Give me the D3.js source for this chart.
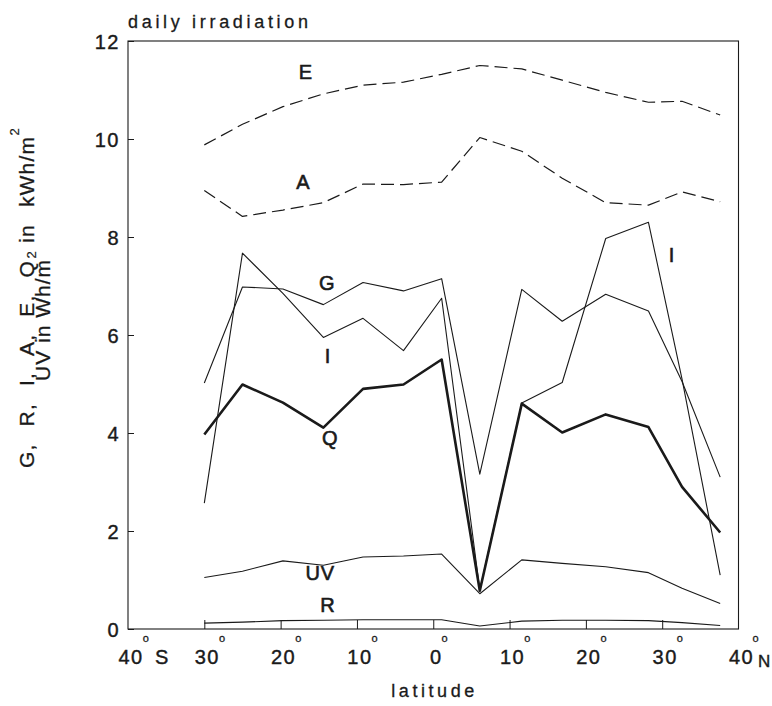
<!DOCTYPE html>
<html>
<head>
<meta charset="utf-8">
<script src="https://cdn.jsdelivr.net/npm/d3@7"></script>
<style>
  body { margin: 0; background: #fff; }
  svg { display: block; font-family: 'Liberation Sans', Arial, sans-serif; }
</style>
</head>
<body>
<svg id="chart" width="772" height="706"></svg>
<script>
// station latitudes (negative = south)
const latitudes = [-30, -25, -19.7, -14.4, -9.2, -3.9, 1.1, 6.1, 11.6, 16.9, 22.6, 28.2, 32.6, 37.6];

const eValues = [9.88, 10.3, 10.66, 10.92, 11.1, 11.16, 11.32, 11.5, 11.43, 11.2, 10.95, 10.75, 10.77, 10.49];
const aValues = [8.95, 8.42, 8.55, 8.7, 9.08, 9.07, 9.12, 10.03, 9.75, 9.2, 8.7, 8.65, 8.92, 8.72];
const gValues = [5.02, 6.98, 6.94, 6.62, 7.07, 6.9, 7.15, 3.16, 6.93, 6.28, 6.83, 6.49, 5.05, 3.1];
const iValues = [2.57, 7.67, 6.85, 5.95, 6.34, 5.68, 6.75, 0.8, 4.61, 5.03, 7.97, 8.3, 5.1, 1.1];
const qValues = [3.97, 4.99, 4.62, 4.11, 4.9, 4.99, 5.5, 0.78, 4.6, 4.01, 4.38, 4.12, 2.9, 1.97];
const uvValues = [1.05, 1.18, 1.39, 1.3, 1.47, 1.49, 1.53, 0.72, 1.41, 1.34, 1.27, 1.15, 0.83, 0.52];
const rValues = [0.12, 0.14, 0.17, 0.18, 0.19, 0.19, 0.19, 0.06, 0.16, 0.18, 0.18, 0.17, 0.13, 0.07];

const yTicks = [0, 2, 4, 6, 8, 10, 12];
const xTicks = [-40, -30, -20, -10, 0, 10, 20, 30, 40];
const xTickLabels = ['40', '30', '20', '10', '0', '10', '20', '30', '40'];

const series = [
  { name: 'E', values: eValues, dash: '13,6', width: 1.2 },
  { name: 'A', values: aValues, dash: '13,6', width: 1.2 },
  { name: 'G', values: gValues, dash: null, width: 1.1 },
  { name: 'I', values: iValues, dash: null, width: 1.1 },
  { name: 'Q', values: qValues, dash: null, width: 2.6 },
  { name: 'UV', values: uvValues, dash: null, width: 1.1 },
  { name: 'R', values: rValues, dash: null, width: 1.1 },
];

// curve labels, placed in data coordinates
const curveLabels = [
  { text: 'E', lat: -16.7, value: 11.37 },
  { text: 'A', lat: -17.0, value: 9.12 },
  { text: 'G', lat: -13.9, value: 7.06 },
  { text: 'I', lat: -13.8, value: 5.57 },
  { text: 'Q', lat: -13.5, value: 3.9 },
  { text: 'UV', lat: -14.8, value: 1.14 },
  { text: 'R', lat: -13.8, value: 0.49 },
  { text: 'I', lat: 31.3, value: 7.63 },
];

const width = 772;
const height = 706;
const margin = { top: 41, right: 33.5, bottom: 77, left: 128 };
const ink = '#1a1a1a';

const svg = d3.select('#chart');

const x = d3.scaleLinear().domain([-40, 40]).range([margin.left, width - margin.right]);
const y = d3.scaleLinear().domain([0, 12]).range([height - margin.bottom, margin.top]);

// frame
svg.append('rect')
  .attr('x', x(-40))
  .attr('y', y(12))
  .attr('width', x(40) - x(-40))
  .attr('height', y(0) - y(12))
  .attr('fill', 'none')
  .attr('stroke', ink)
  .attr('stroke-width', 1.1);

// y axis: inward ticks
const yAxis = svg.append('g')
  .attr('transform', `translate(${x(-40)},0)`)
  .call(d3.axisLeft(y).tickValues(yTicks).tickSize(-6).tickPadding(8));
yAxis.select('.domain').remove();
yAxis.selectAll('line').attr('stroke', ink);
yAxis.selectAll('text')
  .attr('fill', ink)
  .attr('stroke', ink)
  .attr('stroke-width', 0.4)
  .style('font-family', "'Liberation Sans', Arial, sans-serif")
  .style('font-size', '20px')
  .style('letter-spacing', '1.5px')
  .attr('dy', '0.36em');

// x axis: inward ticks between the frame corners
const xAxis = svg.append('g')
  .attr('transform', `translate(0,${y(0)})`)
  .call(d3.axisBottom(x).tickValues(xTicks.slice(1, -1)).tickSize(-9).tickFormat(''));
xAxis.select('.domain').remove();
xAxis.selectAll('line').attr('stroke', ink);

// x labels with degree marks and S / N
const xLabels = svg.append('g')
  .attr('fill', ink)
  .style('font-size', '20px');

xTicks.forEach((t, i) => {
  const cx = x(t) + 3;
  const num = xLabels.append('text')
    .attr('x', cx)
    .attr('y', 664)
    .attr('text-anchor', 'middle')
    .attr('stroke', ink)
    .attr('stroke-width', 0.4)
    .style('letter-spacing', '1.5px')
    .text(xTickLabels[i]);
  const w = num.node().getComputedTextLength();
  const degX = t === 40 ? x(t) + 14 : cx + w / 2 - 1;
  xLabels.append('text')
    .attr('x', degX)
    .attr('y', 642)
    .attr('stroke', ink)
    .attr('stroke-width', 0.3)
    .style('font-size', '11px')
    .text('o');
  if (t === -40) {
    xLabels.append('text')
      .attr('x', x(t) + 27)
      .attr('y', 664)
      .attr('stroke', ink)
      .attr('stroke-width', 0.4)
      .text('S');
  }
  if (t === 40) {
    xLabels.append('text')
      .attr('x', x(t) + 19.5)
      .attr('y', 667)
      .attr('stroke', ink)
      .attr('stroke-width', 0.4)
      .style('font-size', '17px')
      .text('N');
  }
});

// curves
const line = d3.line()
  .x((d, i) => x(latitudes[i]))
  .y((d) => y(d));

svg.append('g')
  .selectAll('path')
  .data(series)
  .join('path')
  .attr('d', (d) => line(d.values))
  .attr('fill', 'none')
  .attr('stroke', ink)
  .attr('stroke-width', (d) => d.width)
  .attr('stroke-dasharray', (d) => d.dash)
  .attr('stroke-linejoin', 'round');

svg.append('g')
  .selectAll('text')
  .data(curveLabels)
  .join('text')
  .attr('x', (d) => x(d.lat))
  .attr('y', (d) => y(d.value))
  .attr('dy', '0.36em')
  .attr('text-anchor', 'middle')
  .attr('fill', ink)
  .attr('stroke', ink)
  .attr('stroke-width', 0.6)
  .style('font-size', '20px')
  .style('letter-spacing', '1px')
  .text((d) => d.text);

// titles
svg.append('text')
  .attr('x', x(-40))
  .attr('y', 28)
  .attr('fill', ink)
  .attr('stroke', ink)
  .attr('stroke-width', 0.3)
  .attr('textLength', 180)
  .attr('lengthAdjust', 'spacing')
  .style('font-size', '18px')
  .text('daily irradiation');

svg.append('text')
  .attr('x', x(0) - 42)
  .attr('y', 697)
  .attr('fill', ink)
  .attr('stroke', ink)
  .attr('stroke-width', 0.3)
  .attr('textLength', 83)
  .attr('lengthAdjust', 'spacing')
  .style('font-size', '18px')
  .text('latitude');

// y title, two rotated lines with superscripts
const yTitle = [
  { text: 'G, R, I, A, E, Q in kWh/m', bx: 33.5, y0: 468, ls: 1.2, ws: 10, sup: [19, 0] },
  { text: 'UV in Wh/m', bx: 50, y0: 381, ls: 1, ws: 0, sup: [36, 0] },
];
yTitle.forEach((d) => {
  const t = svg.append('text')
    .attr('transform', `translate(${d.bx},${d.y0}) rotate(-90)`)
    .attr('fill', ink)
    .attr('stroke', ink)
    .attr('stroke-width', 0.3)
    .style('font-size', '21px')
    .style('letter-spacing', `${d.ls}px`)
    .style('word-spacing', `${d.ws}px`)
    .text(d.text);
  const len = t.node().getComputedTextLength();
  svg.append('text')
    .attr('transform', `translate(${d.sup[0]},${d.y0 - len - 4}) rotate(-90)`)
    .attr('fill', ink)
    .attr('stroke', ink)
    .attr('stroke-width', 0.2)
    .attr('text-anchor', 'middle')
    .style('font-size', '13px')
    .text('2');
});
</script>
</body>
</html>
